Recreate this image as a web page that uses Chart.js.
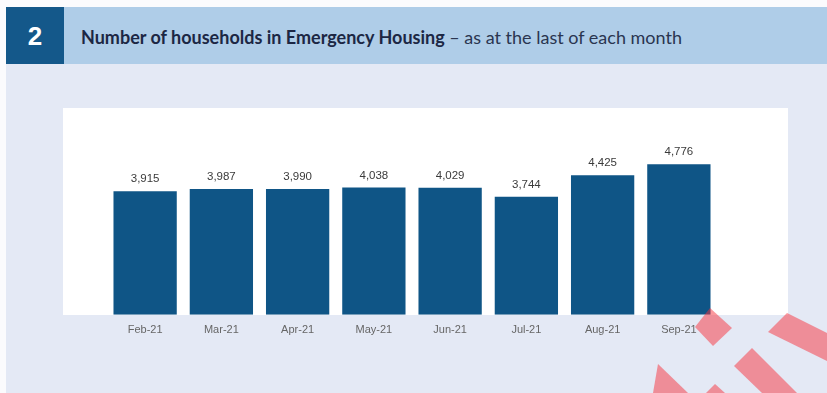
<!DOCTYPE html>
<html>
<head>
<meta charset="utf-8">
<script src="https://cdn.jsdelivr.net/npm/chart.js@4/dist/chart.umd.min.js"></script>
<style>
  html, body { margin: 0; padding: 0; background: #ffffff; }
  #page { position: relative; width: 827px; height: 393px; overflow: hidden; background: #fbfbfd; }
  #panel { position: absolute; left: 6px; top: 64px; right: 0; bottom: 0; background: #e4e9f5; }
  #band { position: absolute; left: 64px; top: 7px; right: 0; height: 57px; background: #afcde8; }
  #num { position: absolute; left: 6px; top: 7px; width: 58px; height: 57px; background: #14588a;
         color: #ffffff; font: bold 26px "Liberation Sans", Arial, sans-serif; line-height: 59px; text-align: center; }
  #title { position: absolute; left: 81px; top: 26px; height: 22px; line-height: 22px; white-space: nowrap;
           font: 18px Lato, "Open Sans", sans-serif; color: #1c2744; }
  #title b { font-weight: bold; }
  #title span { color: #2a3550; }
  #plotbg { position: absolute; left: 63px; top: 108px; width: 725px; height: 207px; background: #ffffff; }
  #chart { position: absolute; left: 0; top: 0; }
  #marks { position: absolute; left: 0; top: 0; pointer-events: none; }
</style>
</head>
<body>
<div id="page">
  <div id="panel"></div>
  <div id="band"></div>
  <div id="num">2</div>
  <div id="title"><b>Number of households in Emergency Housing</b><span> – as at the last of each month</span></div>
  <div id="plotbg"></div>
  <canvas id="chart" width="827" height="393"></canvas>
  <svg id="marks" width="827" height="393" viewBox="0 0 827 393">
    <g fill="rgb(248,50,60)" fill-opacity="0.5">
      <polygon points="710,308 732,328 713,346 695,327"/>
      <polygon points="787,313 827,333 827,361 768,332"/>
      <polygon points="752,348 797,393 762,393 734,366"/>
      <polygon points="658,364 688,393 653,393"/>
      <polygon points="715,384 725,393 706,393"/>
    </g>
  </svg>
</div>
<script>
// Households in emergency housing at the end of each month
const months = ['Feb-21', 'Mar-21', 'Apr-21', 'May-21', 'Jun-21', 'Jul-21', 'Aug-21', 'Sep-21'];
const households = [3915, 3987, 3990, 4038, 4029, 3744, 4425, 4776];
const yMax = 5500;

// Writes each bar's value above it
const valueLabels = {
  id: 'valueLabels',
  afterDatasetsDraw(chart) {
    const ctx = chart.ctx;
    const meta = chart.getDatasetMeta(0);
    ctx.save();
    ctx.font = '11.5px "Liberation Sans", Arial, sans-serif';
    ctx.fillStyle = '#3a3a3a';
    ctx.textAlign = 'center';
    ctx.textBaseline = 'middle';
    meta.data.forEach((bar, i) => {
      const v = chart.data.datasets[0].data[i];
      ctx.fillText(v.toLocaleString('en-US'), bar.x, bar.y - 12);
    });
    ctx.restore();
  }
};

new Chart(document.getElementById('chart'), {
  type: 'bar',
  data: {
    labels: months,
    datasets: [{
      data: households,
      backgroundColor: '#0f5586',
      borderWidth: 0,
      barPercentage: 0.83,
      categoryPercentage: 1
    }]
  },
  options: {
    responsive: false,
    devicePixelRatio: 1,
    animation: false,
    layout: { padding: { left: 107, right: 110, top: 141.3, bottom: 47 } },
    plugins: { legend: { display: false }, tooltip: { enabled: false } },
    scales: {
      x: {
        grid: { display: false, drawTicks: false },
        border: { display: false },
        ticks: {
          padding: 9,
          color: '#666666',
          font: { family: '"Liberation Sans", Arial, sans-serif', size: 11 }
        }
      },
      y: {
        display: false,
        min: 0,
        max: yMax
      }
    }
  },
  plugins: [valueLabels]
});
</script>
</body>
</html>
